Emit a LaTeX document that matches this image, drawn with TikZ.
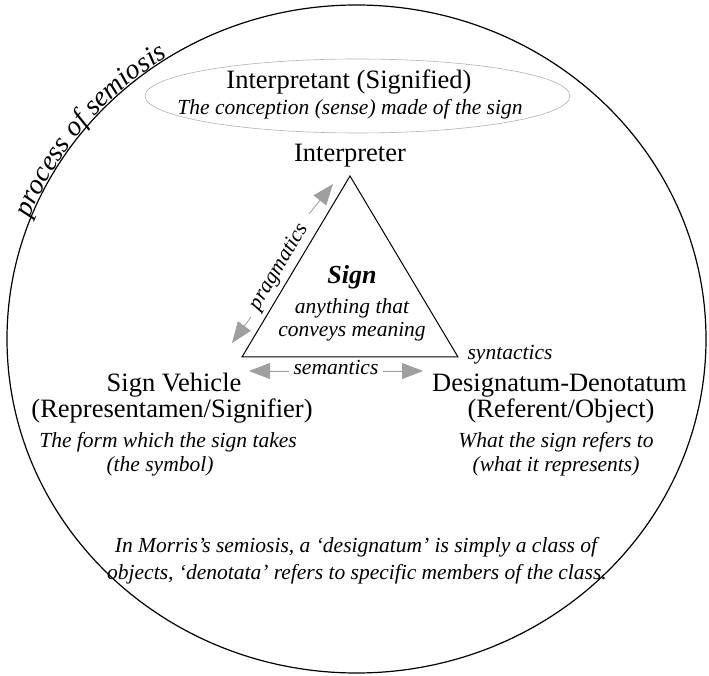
\documentclass[tikz,border=0pt]{standalone}
\usepackage{fontspec}
\setmainfont{Liberation Serif}
\usetikzlibrary{arrows.meta, shapes.geometric, decorations.text}

\begin{document}
\begin{tikzpicture}[x=1pt, y=1pt,
    head/.style={font=\fontsize{26.5}{28}\selectfont, anchor=base, inner sep=0pt},
    gloss/.style={font=\fontsize{21.5}{24}\selectfont\itshape, anchor=base, inner sep=0pt},
    rel/.style={draw=gray!75, fill=gray!75, line width=0.8pt, -{Triangle[length=21pt,width=16pt]}}]
    \useasboundingbox (0,0) rectangle (709,675);

    % outer circle of semiosis
    \draw[line width=1.2pt] (356.5,336) ellipse [x radius=349.5, y radius=334];
    \path[shift={(356.5,336)}, decorate, decoration={text along path, raise=1pt,
        text={|\fontsize{28}{30}\selectfont\itshape|process of semiosis}}]
        (159:349.5 and 334) arc [start angle=159, end angle=110, x radius=349.5, y radius=334];

    % interpretant
    \node[ellipse, draw=gray!60, line width=0.6pt, minimum width=425, minimum height=74] (interpretant) at (357.5,579) {};
    \node[head] (interphead) at (349,586) {Interpretant (Signified)};
    \node[gloss] (interpgloss) at (350,560) {The conception (sense) made of the sign};
    \node[head] (interpreter) at (350,513) {Interpreter};

    % triangle
    \coordinate (apex) at (350,499);
    \coordinate (vleft) at (242,318);
    \coordinate (vright) at (458,318);
    \draw[line width=1pt] (apex) -- (vleft) -- (vright) -- cycle;

    \node[anchor=base, font=\fontsize{26}{28}\selectfont\bfseries\itshape] (sign) at (352,391) {Sign};
    \node[gloss] (signa) at (352,361) {anything that};
    \node[gloss] (signb) at (352,338) {conveys meaning};

    % pragmatics
    \coordinate (pa) at (309,461);
    \coordinate (pb) at (333,491);
    \coordinate (pc) at (251,358);
    \coordinate (pd) at (232,332);
    \draw[rel] (pa) -- (pb);
    \draw[rel] (pc) -- (pd);
    \node[font=\fontsize{21.5}{24}\selectfont\itshape, rotate=59.2] (pragmatics) at (279,408) {pragmatics};

    % semantics
    \coordinate (sa) at (289,304);
    \coordinate (sb) at (249,304);
    \coordinate (sc) at (383,304);
    \coordinate (sd) at (423,304);
    \draw[rel] (sa) -- (sb);
    \draw[rel] (sc) -- (sd);
    \node[gloss] (semantics) at (336,300) {semantics};

    \node[gloss] (syntactics) at (510,315) {syntactics};

    % sign vehicle
    \node[head] (vehicle) at (174,283) {Sign Vehicle};
    \node[head] (vehicleb) at (172,257) {(Representamen/Signifier)};
    \node[gloss] (vehiclec) at (168,227) {The form which the sign takes};
    \node[gloss] (vehicled) at (160,204) {(the symbol)};

    % designatum
    \node[head] (designatum) at (559.5,283) {Designatum-Denotatum};
    \node[head] (designatumb) at (561,257) {(Referent/Object)};
    \node[gloss] (designatumc) at (556,227) {What the sign refers to};
    \node[gloss] (designatumd) at (556,204) {(what it represents)};

    % note
    \node[gloss] (notea) at (356,123) {In Morris’s semiosis, a ‘designatum’ is simply a class of};
    \node[gloss] (noteb) at (357,96) {objects, ‘denotata’ refers to specific members of the class.};
\end{tikzpicture}
\end{document}
